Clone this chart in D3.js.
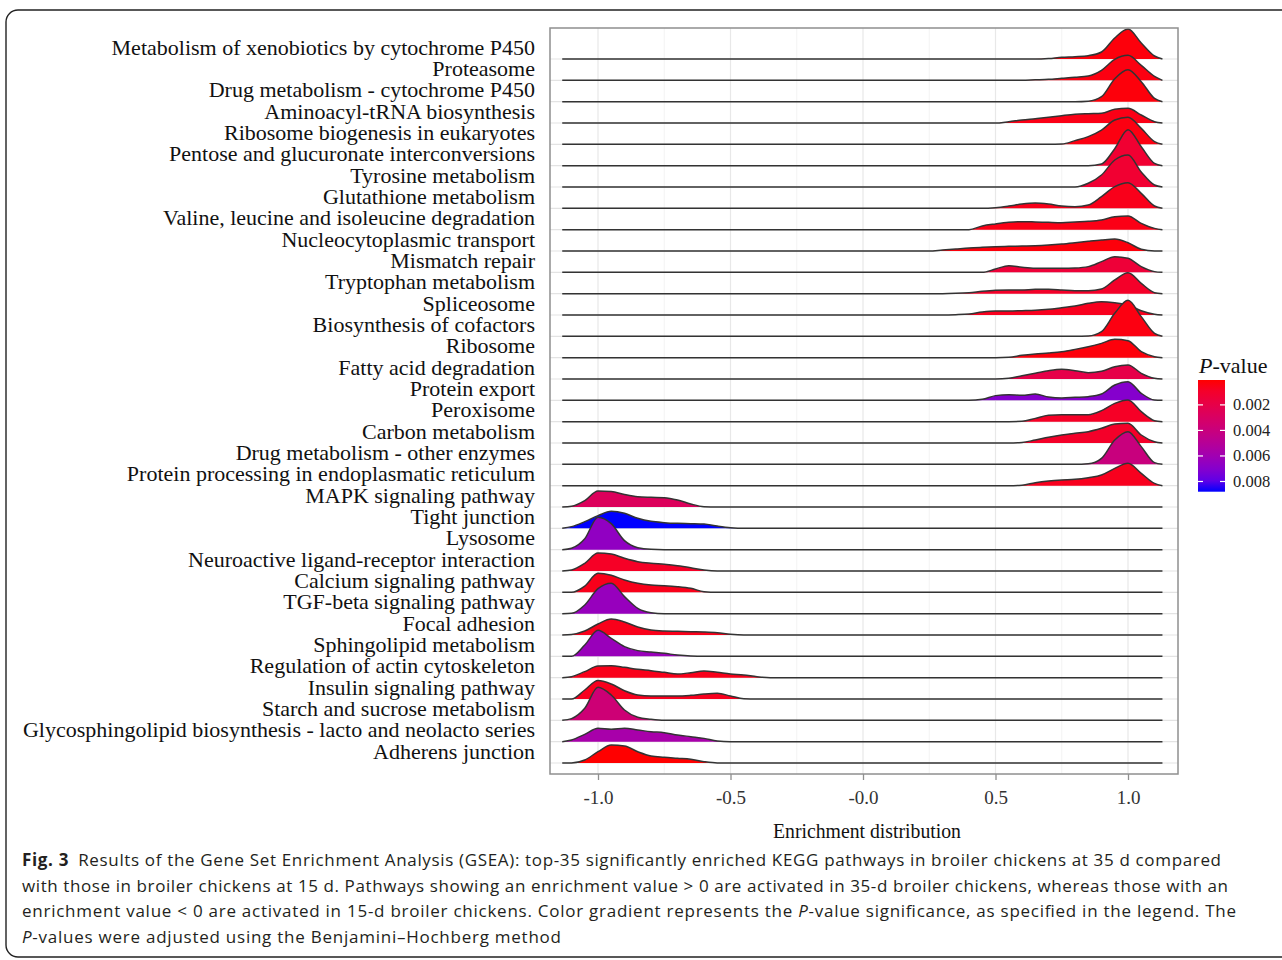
<!DOCTYPE html>
<html lang="en">
<head>
<meta charset="UTF-8" />
<title>GSEA ridge plot</title>
<style>
  body { margin: 0; background: #fff; }
  svg text { font-family: "Liberation Serif", "Times New Roman", serif; }
  svg text.cap { font-family: "Open Sans", sans-serif; }
</style>
</head>
<body>
<script src="https://cdn.jsdelivr.net/npm/d3@7"></script>
<div id="app"></div>
<script>
// pathways, top to bottom
const pathways = [
  "Metabolism of xenobiotics by cytochrome P450", "Proteasome", "Drug metabolism - cytochrome P450",
  "Aminoacyl-tRNA biosynthesis", "Ribosome biogenesis in eukaryotes", "Pentose and glucuronate interconversions",
  "Tyrosine metabolism", "Glutathione metabolism", "Valine, leucine and isoleucine degradation",
  "Nucleocytoplasmic transport", "Mismatch repair", "Tryptophan metabolism", "Spliceosome",
  "Biosynthesis of cofactors", "Ribosome", "Fatty acid degradation", "Protein export", "Peroxisome",
  "Carbon metabolism", "Drug metabolism - other enzymes", "Protein processing in endoplasmatic reticulum",
  "MAPK signaling pathway", "Tight junction", "Lysosome", "Neuroactive ligand-receptor interaction",
  "Calcium signaling pathway", "TGF-beta signaling pathway", "Focal adhesion", "Sphingolipid metabolism",
  "Regulation of actin cytoskeleton", "Insulin signaling pathway", "Starch and sucrose metabolism",
  "Glycosphingolipid biosynthesis - lacto and neolacto series", "Adherens junction"
];
const pValues = [
  0.0002, 0.0003, 0.0002, 0.0004, 0.0003, 0.0012, 0.0012, 0.0005, 0.0004, 0.0002, 0.0014,
  0.0009, 0.0006, 0.0003, 0.0002, 0.0020, 0.0070, 0.0008, 0.0009, 0.0040, 0.0006,
  0.0027, 0.0088, 0.0066, 0.0008, 0.0005, 0.0064, 0.0005, 0.0063, 0.0005, 0.0006, 0.0037, 0.0057, 0.00005
];

// enrichment grid for the activated (>0) and repressed (<0) pathways
const gridUp = [0.25, 0.30, 0.35, 0.40, 0.45, 0.50, 0.55, 0.60, 0.65, 0.70, 0.75, 0.80, 0.85, 0.90, 0.95, 1.00, 1.05, 1.10, 1.13];
const gridDown = [-1.135, -1.10, -1.05, -1.00, -0.95, -0.90, -0.85, -0.80, -0.75, -0.70, -0.65, -0.60, -0.55, -0.50, -0.45, -0.40, -0.35, -0.30, -0.25];
const densityRange = [-1.135, 1.13];

// density heights (first 21 pathways)
const ridgesUp = [
  [0, 0, 0, 0, 0, 0, 0, 0, 0, 0.5, 1.7, 2.3, 3.3, 7, 21, 30, 16, 3, 0],
  [0, 0, 0, 0, 0, 0, 0, 0, 0.5, 1, 2, 3, 4.3, 10, 21, 25, 15, 4, 0],
  [0, 0, 0, 0, 0, 0, 0, 0, 0, 0, 0, 0, 0.5, 5, 23, 32, 20, 3.3, 0],
  [0, 0, 0, 0, 0, 0, 1.3, 3, 4.3, 5.7, 7.3, 8.7, 9.3, 9.7, 13.7, 14.7, 8, 1.3, 0],
  [0, 0, 0, 0, 0, 0, 0, 0, 0, 0, 0.3, 3.7, 7.7, 14.3, 24.3, 27, 16, 2.7, 0],
  [0, 0, 0, 0, 0, 0, 0, 0, 0, 0, 0, 0, 0, 1.7, 17, 36, 19, 2.3, 0],
  [0, 0, 0, 0, 0, 0, 0, 0, 0, 0, 0, 0, 3.7, 12, 27, 32, 15, 2, 0],
  [0, 0, 0, 0, 0, 0.7, 2.3, 4.3, 5.3, 4.3, 2.3, 1.7, 3.3, 11.7, 21.7, 25.7, 15, 2.3, 0],
  [0, 0, 0, 0, 3.7, 5.7, 7.3, 8, 7.7, 7.3, 7, 7.7, 8.3, 9.7, 13, 13.7, 6.3, 1.3, 0],
  [0, 1, 2, 3, 3.7, 4.3, 4.7, 5, 5.3, 6, 7, 8.3, 9.7, 11, 12, 8.3, 1.7, 0, 0],
  [0, 0, 0, 0, 0, 3.3, 6.7, 5, 4, 4, 4, 4.3, 5.7, 10.7, 15.7, 14, 5.7, 0.7, 0],
  [0, 0, 0.3, 1, 2.3, 3.3, 3.7, 3.7, 4.3, 4.3, 3.7, 3, 3, 4.7, 13.7, 21, 10.3, 1, 0],
  [0, 0, 0.3, 1, 3, 4, 4, 4.3, 4.7, 5.7, 7.3, 9, 11.7, 13.3, 12.3, 10, 4.3, 0.7, 0],
  [0, 0, 0, 0, 0, 0, 0, 0, 0, 0, 0, 0, 0.3, 4.7, 23, 36, 19.7, 3, 0],
  [0, 0, 0, 0, 0, 0, 0.3, 2.3, 3.7, 4.7, 6, 8.3, 11, 14.3, 18.3, 17, 6, 1, 0],
  [0, 0, 0, 0, 0, 0, 0.7, 3.3, 5.7, 8.3, 9.7, 8.3, 6.3, 7.7, 12.3, 14, 5.7, 0.7, 0],
  [0, 0, 0, 0, 1, 4.7, 5.7, 5, 6.3, 3.3, 2.3, 3, 3.7, 6.3, 15.3, 18.7, 7, 0.3, 0],
  [0, 0, 0, 0, 0, 0, 0, 0.3, 3.3, 6.3, 7, 7, 7, 11, 18.3, 21.7, 10, 1, 0],
  [0, 0, 0, 0, 0, 0, 0, 0.5, 3, 5.7, 8, 9.7, 11.3, 14.7, 19, 19.7, 8, 1.3, 0],
  [0, 0, 0, 0, 0, 0, 0, 0, 0, 0, 0, 0, 0.5, 6, 24.3, 32.7, 17.7, 1.7, 0],
  [0, 0, 0, 0, 0, 0, 0, 0.5, 3, 4.7, 5.7, 6.3, 8, 10.7, 17.3, 22.3, 12.3, 2.3, 0]
];
// density heights (last 13 pathways)
const ridgesDown = [
  [0, 0.7, 6.3, 16, 15.5, 12.5, 10.3, 9.7, 9.3, 7, 3, 0.3, 0, 0, 0, 0, 0, 0, 0],
  [0, 1.7, 6.7, 12.7, 17, 15, 10, 7, 5.7, 5, 4.7, 4.3, 2.3, 0.7, 0, 0, 0, 0, 0],
  [0, 1.5, 11, 32.5, 26, 9, 2, 0.3, 0, 0, 0, 0, 0, 0, 0, 0, 0, 0, 0],
  [0, 1, 7.7, 18, 17, 12.7, 9.3, 7.7, 6.7, 5.3, 3.3, 1, 0, 0, 0, 0, 0, 0, 0],
  [0, 0, 6.3, 19, 17, 12.3, 9, 7.3, 6.7, 5.7, 4, 0.7, 0, 0, 0, 0, 0, 0, 0],
  [0, 0.3, 8.7, 25, 30.5, 17, 5.3, 1, 0, 0, 0, 0, 0, 0, 0, 0, 0, 0, 0],
  [0, 0.5, 4, 11, 16, 13, 8, 5, 4, 3.7, 3.3, 3, 2.3, 0.7, 0, 0, 0, 0, 0],
  [0, 0, 11.3, 26, 18, 9.7, 5.7, 4.3, 3, 1.3, 0.3, 0, 0, 0, 0, 0, 0, 0, 0],
  [0, 1, 6, 11.7, 12, 10.3, 8.3, 7, 5.3, 3.7, 5, 6.7, 5.3, 3.7, 2.7, 1, 0, 0, 0],
  [0, 0, 9, 18.5, 15, 8.3, 4, 3, 3, 3, 3.7, 5, 5.7, 3, 0.3, 0, 0, 0, 0],
  [0, 1.7, 12, 33, 25.3, 10.3, 3, 1, 0, 0, 0, 0, 0, 0, 0, 0, 0, 0, 0],
  [0, 1.7, 7.3, 13.3, 12.3, 13.3, 11.7, 10, 9, 6.7, 5, 3.3, 0.7, 0, 0, 0, 0, 0, 0],
  [0, 0, 3, 11.3, 18, 17, 11.3, 7, 5.7, 4.7, 3.7, 1.3, 0, 0, 0, 0, 0, 0, 0]
];

const xTicks = [-1, -0.5, 0, 0.5, 1];
const xTickLabels = ["-1.0", "-0.5", "-0.0", "0.5", "1.0"];
const xMinor = [-0.75, -0.25, 0.25, 0.75];
const legendBreaks = [0.002, 0.004, 0.006, 0.008];
const legendLabels = ["0.002", "0.004", "0.006", "0.008"];
const pRange = [0.00005, 0.0088];
const captionLines = [
  [["Fig. 3", "b"], ["\u2002Results of the Gene Set Enrichment Analysis (GSEA): top-35 significantly enriched KEGG pathways in broiler chickens at 35 d compared", ""]],
  [["with those in broiler chickens at 15 d. Pathways showing an enrichment value > 0 are activated in 35-d broiler chickens, whereas those with an", ""]],
  [["enrichment value < 0 are activated in 15-d broiler chickens. Color gradient represents the ", ""], ["P", "i"], ["-value significance, as specified in the legend. The", ""]],
  [["P", "i"], ["-values were adjusted using the Benjamini\u2013Hochberg method", ""]]
];
const captionWidths = [1199, 1206, 1214, 539];

// canvas
const W = 1282, H = 960;
const panel = { left: 550, right: 1178, top: 28, bottom: 774 };
const svg = d3.select("#app").append("svg")
  .attr("width", W).attr("height", H)
  .style("display", "block");
svg.append("rect").attr("width", W).attr("height", H).attr("fill", "#fff");

// outer frame
svg.append("rect")
  .attr("x", 6).attr("y", 10).attr("width", 1300).attr("height", 947).attr("rx", 12)
  .attr("fill", "none").attr("stroke", "#222").attr("stroke-width", 1.4);

// scales
const x = d3.scaleLinear().domain([-1, 1]).range([598, 1128]);
const y = d3.scalePoint().domain(pathways).range([59, 763]);
const h = d3.scaleLinear().domain([0, 36]).range([0, 36]);
const color = d3.scaleLinear().domain(pRange).range(["red", "blue"]).interpolate(d3.interpolateLab);

// panel + grid
svg.append("rect")
  .attr("x", panel.left).attr("y", panel.top)
  .attr("width", panel.right - panel.left).attr("height", panel.bottom - panel.top)
  .attr("fill", "#fff");
svg.append("g").selectAll("line").data(xMinor).join("line")
  .attr("x1", d => x(d)).attr("x2", d => x(d))
  .attr("y1", panel.top).attr("y2", panel.bottom)
  .attr("stroke", "#f3f3f3").attr("stroke-width", 1);
svg.append("g").selectAll("line").data(xTicks).join("line")
  .attr("x1", d => x(d)).attr("x2", d => x(d))
  .attr("y1", panel.top).attr("y2", panel.bottom)
  .attr("stroke", "#e8e8e8").attr("stroke-width", 1.2);
svg.append("g").selectAll("line").data(pathways).join("line")
  .attr("x1", panel.left).attr("x2", panel.right)
  .attr("y1", d => y(d)).attr("y2", d => y(d))
  .attr("stroke", "#e3e3e3").attr("stroke-width", 1.2);

// ridges
const ridgePoints = (i) => {
  if (i < ridgesUp.length) {
    return [[densityRange[0], 0]].concat(gridUp.map((g, j) => [g, ridgesUp[i][j]]));
  }
  const r = ridgesDown[i - ridgesUp.length];
  return gridDown.map((g, j) => [g, r[j]]).concat([[densityRange[1], 0]]);
};
const ridges = svg.append("g");
pathways.forEach((name, i) => {
  const base = y(name);
  const pts = ridgePoints(i);
  const area = d3.area()
    .x(d => x(d[0])).y0(base).y1(d => base - h(d[1]))
    .curve(d3.curveMonotoneX);
  const line = d3.line()
    .x(d => x(d[0])).y(d => base - h(d[1]))
    .curve(d3.curveMonotoneX);
  ridges.append("path").attr("d", area(pts))
    .attr("fill", color(pValues[i])).attr("stroke", "none");
  ridges.append("path").attr("d", line(pts))
    .attr("fill", "none").attr("stroke", "#333").attr("stroke-width", 1.5);
});

// panel border
svg.append("rect")
  .attr("x", panel.left).attr("y", panel.top)
  .attr("width", panel.right - panel.left).attr("height", panel.bottom - panel.top)
  .attr("fill", "none").attr("stroke", "#8f8f8f").attr("stroke-width", 1.5);

// y labels
svg.append("g").selectAll("text").data(pathways).join("text")
  .attr("x", 535).attr("y", d => y(d) - 4.5)
  .attr("text-anchor", "end")
  .attr("font-size", 22).attr("fill", "#111")
  .text(d => d);

// x axis
const xAxis = svg.append("g")
  .attr("transform", `translate(0,${panel.bottom})`)
  .call(d3.axisBottom(x).tickValues(xTicks).tickFormat((d, i) => xTickLabels[i]).tickSize(6));
xAxis.select(".domain").remove();
xAxis.selectAll(".tick line").attr("stroke", "#8f8f8f").attr("stroke-width", 1.3);
xAxis.selectAll(".tick text")
  .attr("y", 17)
  .attr("font-family", "Liberation Serif, serif")
  .attr("font-size", 19).attr("fill", "#333");
svg.append("text")
  .attr("x", 773).attr("y", 838)
  .attr("font-size", 21).attr("fill", "#111")
  .attr("textLength", 188).attr("lengthAdjust", "spacingAndGlyphs")
  .text("Enrichment distribution");

// legend
const lg = { x: 1198, w: 27 };
const ly = d3.scaleLinear().domain(pRange).range([380, 491.7]);
const grad = svg.append("defs").append("linearGradient")
  .attr("id", "pgrad").attr("x1", 0).attr("x2", 0).attr("y1", 0).attr("y2", 1);
d3.range(0, 1.001, 0.1).forEach(t => {
  grad.append("stop").attr("offset", t)
    .attr("stop-color", color(pRange[0] + t * (pRange[1] - pRange[0])));
});
svg.append("rect")
  .attr("x", lg.x).attr("y", ly(pRange[0]))
  .attr("width", lg.w).attr("height", ly(pRange[1]) - ly(pRange[0]))
  .attr("fill", "url(#pgrad)");
const lt = svg.append("g");
legendBreaks.forEach((b, i) => {
  lt.append("line").attr("x1", lg.x).attr("x2", lg.x + 5)
    .attr("y1", ly(b)).attr("y2", ly(b)).attr("stroke", "#fff").attr("stroke-width", 1.2);
  lt.append("line").attr("x1", lg.x + lg.w - 5).attr("x2", lg.x + lg.w)
    .attr("y1", ly(b)).attr("y2", ly(b)).attr("stroke", "#fff").attr("stroke-width", 1.2);
  lt.append("text").attr("x", 1233).attr("y", ly(b) + 5.5)
    .attr("font-size", 16.5).attr("fill", "#222").text(legendLabels[i]);
});
const lTitle = svg.append("text").attr("x", 1199).attr("y", 373)
  .attr("font-size", 22).attr("fill", "#111");
lTitle.append("tspan").attr("font-style", "italic").text("P");
lTitle.append("tspan").text("-value");

// caption
const capBase = [866, 891.5, 917, 942.5];
captionLines.forEach((parts, i) => {
  const t = svg.append("text").attr("class", "cap")
    .attr("x", 22).attr("y", capBase[i])
    .attr("font-size", 17).attr("fill", "#231f20")
    .attr("textLength", captionWidths[i]).attr("lengthAdjust", "spacing");
  parts.forEach(([s, f]) => {
    const ts = t.append("tspan").text(s);
    if (f === "b") ts.attr("font-weight", "bold");
    if (f === "i") ts.attr("font-style", "italic");
  });
});
</script>
</body>
</html>
